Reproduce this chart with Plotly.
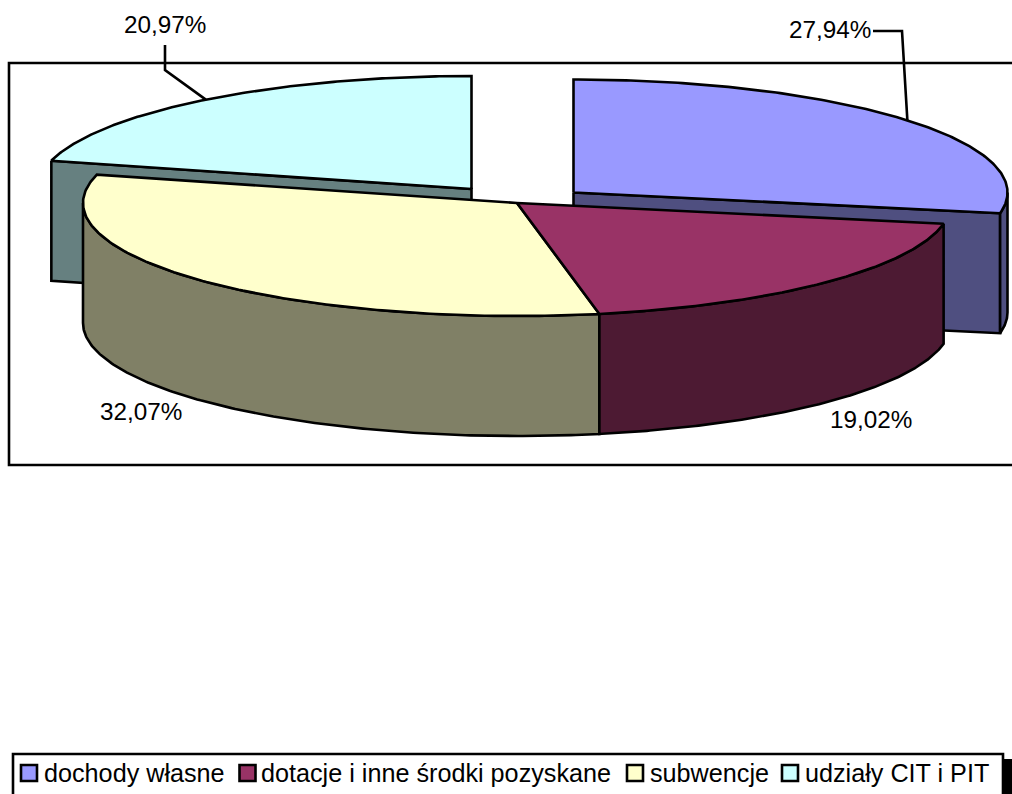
import numpy as np
import plotly.graph_objects as go

# Budget income structure, shares in percent
categories = ["dochody własne", "dotacje i inne środki pozyskane", "subwencje", "udziały CIT i PIT"]
shares = [27.94, 19.02, 32.07, 20.97]

top_colors = ["#9999FF", "#993366", "#FFFFCC", "#CCFFFF"]
side_colors = ["#4F4F80", "#4D1A33", "#808066", "#668080"]

# Projection of the tilted pie onto the canvas
WIDTH, HEIGHT = 1012, 794
RX, RY, DEPTH = 434, 113, 120
centers = [(573.5, 192.5), (517, 203), (517, 203), (471.5, 189)]
label_boxes = [(830, 29), (871, 419), (140.5, 411), (165, 24)]
FONT = "Liberation Sans"
LABEL_SIZE = 24.3
KEY_SIZE = 25.2
EDGE = 2.6

# Key row: left edge of each swatch and of its caption
swatch_left = [21, 239.5, 627, 782]
caption_left = [43, 260, 649, 804]
SWATCH = 16
KEY_TOP, KEY_MID = 754, 773


def point(center, theta, drop=0.0):
    """Canvas position of a rim point, theta in degrees clockwise from 12 o'clock."""
    t = np.radians(theta)
    return center[0] + RX * np.sin(t), center[1] - RY * np.cos(t) + drop


def arc(center, start, end, drop=0.0):
    thetas = np.linspace(start, end, 160)
    xs, ys = point(center, thetas, drop)
    return list(xs), list(ys)


def face(xs, ys, color):
    return go.Scatter(
        x=xs + xs[:1], y=ys + ys[:1], mode="lines", fill="toself", fillcolor=color,
        line=dict(color="black", width=EDGE), showlegend=False, hoverinfo="skip",
    )


edges = np.concatenate([[0], np.cumsum(shares)]) * 3.6
fig = go.Figure()

# Painter's order: the pieces further back come first
for i in [3, 0, 2, 1]:
    c, start, end = centers[i], edges[i], edges[i + 1]

    # Cut faces turned towards the viewer on the two pulled-out slices
    if i == 0:
        ex, ey = point(c, end)
        fig.add_trace(face([c[0], ex, ex, c[0]], [c[1], ey, ey + DEPTH, c[1] + DEPTH], side_colors[i]))
    if i == 3:
        ex, ey = point(c, start)
        fig.add_trace(face([ex, c[0], c[0], ex], [ey, c[1], c[1] + DEPTH, ey + DEPTH], side_colors[i]))

    # Outer wall, only the front half of the rim can be seen
    lo, hi = max(start, 90), min(end, 270)
    if lo < hi:
        ux, uy = arc(c, lo, hi)
        dx, dy = arc(c, lo, hi, DEPTH)
        fig.add_trace(face(ux + dx[::-1], uy + dy[::-1], side_colors[i]))

    # Top face
    ax, ay = arc(c, start, end)
    fig.add_trace(face([c[0]] + ax, [c[1]] + ay, top_colors[i]))

# Leader lines for the two upper labels end at the middle of each slice's arc
for i, bends in [(0, [(873, 31), (902, 31)]), (3, [(165, 45), (165, 70)])]:
    mx, my = point(centers[i], (edges[i] + edges[i + 1]) / 2)
    fig.add_trace(go.Scatter(
        x=[b[0] for b in bends] + [mx], y=[b[1] for b in bends] + [my], mode="lines",
        line=dict(color="black", width=EDGE), showlegend=False, hoverinfo="skip",
    ))

# Value labels
for value, (lx, ly) in zip(shares, label_boxes):
    fig.add_annotation(
        x=lx, y=ly, text=f"{value:.2f}".replace(".", ",") + "%", showarrow=False,
        font=dict(family=FONT, size=LABEL_SIZE, color="black"),
    )

shapes = [
    # Plot area frame, running off the right edge of the page
    dict(type="rect", layer="below", x0=9, x1=1030, y0=63, y1=465,
         line=dict(color="black", width=EDGE), fillcolor="rgba(0,0,0,0)"),
    # Key drop shadow and box, the box runs past the bottom of the page
    dict(type="rect", layer="below", x0=1003, x1=1012, y0=759, y1=800,
         line=dict(width=0), fillcolor="black"),
    dict(type="rect", layer="below", x0=13, x1=1003, y0=KEY_TOP, y1=810,
         line=dict(color="black", width=EDGE), fillcolor="white"),
]

# Key along the bottom of the page
for name, color, sx, tx in zip(categories, top_colors, swatch_left, caption_left):
    shapes.append(dict(
        type="rect", layer="below", x0=sx, x1=sx + SWATCH,
        y0=KEY_MID - SWATCH / 2, y1=KEY_MID + SWATCH / 2,
        line=dict(color="black", width=EDGE), fillcolor=color,
    ))
    fig.add_annotation(
        x=tx, y=KEY_MID, text=name, showarrow=False, xanchor="left", borderpad=0,
        font=dict(family=FONT, size=KEY_SIZE, color="black"),
    )

fig.update_layout(
    width=WIDTH, height=HEIGHT, margin=dict(l=0, r=0, t=0, b=0),
    paper_bgcolor="white", plot_bgcolor="white", showlegend=False,
    xaxis=dict(range=[0, WIDTH], visible=False, fixedrange=True),
    yaxis=dict(range=[HEIGHT, 0], visible=False, fixedrange=True),
    shapes=shapes,
)

fig.write_html("out.html", config=dict(displayModeBar=False))
